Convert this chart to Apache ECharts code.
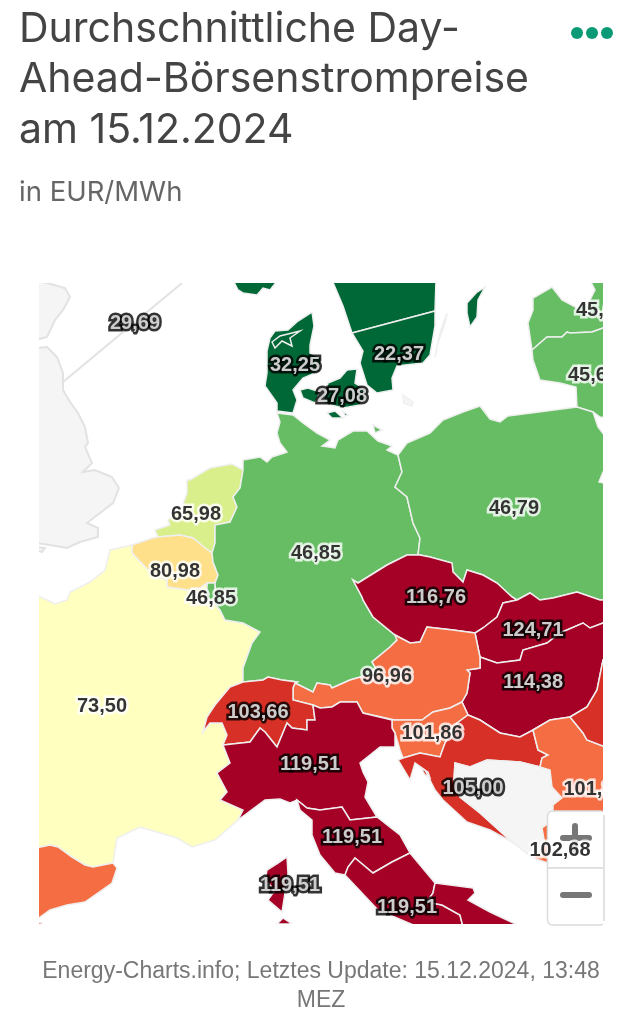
<!DOCTYPE html>
<html><head><meta charset="utf-8">
<style>html,body{margin:0;padding:0;background:#fff}#c{width:633px;height:1024px}</style>
<script src="https://cdn.jsdelivr.net/npm/echarts@6/dist/echarts.min.js"></script>
</head><body><div id="c"></div>
<script>
// ---- values -----
const titleText = 'Durchschnittliche Day-\nAhead-Börsenstrompreise\nam 15.12.2024';
const subtitleText = 'in EUR/MWh';
const footerText = 'Energy-Charts.info; Letztes Update: 15.12.2024, 13:48\nMEZ';
const zoneNames = ['DK1','DK2','SE3','SE4','Gotland','NO2','LV','LT','NL','BE','LU','FR','ES','DE','PL','CZ','SK','HU','AT','SI','HR','RS','RO','ME','CH','IT-Nord','IT-Centre-N','IT-Centre-S','IT-Sud','IT-Sardegna'];
const zoneValues = [32.25,27.08,22.37,22.37,22.37,22.37,45.6,45.6,65.98,80.98,46.85,73.50,101.0,46.85,46.79,116.76,124.71,114.38,96.96,101.86,105.00,101.86,105.0,102.68,103.66,119.51,119.51,119.51,119.51,119.51];
const labelNames = ['GB','DK1','DK2','SE4','LV','LT','NL','BE','LU','DE','PL','CZ','SK','HU','AT','FR','CH','IT-Nord','SI','HR','RS','IT-Centre-N','IT-Sardegna','IT-Centre-S','ME'];
const labelValues = [29.69,32.25,27.08,22.37,45.6,45.6,65.98,80.98,46.85,46.85,46.79,116.76,124.71,114.38,96.96,73.50,103.66,119.51,101.86,105.00,101.86,119.51,119.51,119.51,102.68];
const classLimits = [40,60,70,80,90,103,110];
const classColors = ['#006837','#66bd63','#d9ef8b','#ffffbf','#fee08b','#f46d43','#d73027','#a50026'];

// ---- map outlines (screen-traced shapes) -----
const O = {
 GB:{cp:[135,323],r:[[[36,280],[65,288],[70,297],[63,310],[55,320],[47,337],[36,340]],
   [[36,348],[47,347],[57,357],[63,373],[63,390],[70,402],[78,413],[85,427],[88,443],[85,447],[92,463],[83,472],[95,470],[112,477],[119,488],[113,503],[100,513],[87,523],[98,528],[98,537],[80,542],[67,548],[50,545],[36,543]],
   [[36,547],[45,548],[42,552],[36,550]],
   [[182,283],[63,382],[182,283]]]},
 DK1:{cp:[295,365],r:[[[312,312],[314,326],[310,345],[310,353],[321,358],[320,371],[303,378],[293,390],[297,400],[293,413],[277,411],[277,403],[265,386],[267,373],[267,351],[270,338],[275,331],[288,330],[298,321]],
   [[300,390],[308,388],[320,392],[315,403],[303,398]]],
   h:[[272,342],[280,336],[300,331],[290,338],[292,346],[282,341],[275,348]]},
 DK2:{cp:[342,396],r:[[[328,383],[340,378],[347,370],[357,369],[355,383],[368,391],[360,405],[343,408],[323,403]],
   [[327,413],[335,411],[343,418],[332,418]],[[343,411],[348,415],[345,416]]]},
 SE3:{r:[[[332,280],[436,280],[435,311],[352,333],[343,306]]]},
 SE4:{cp:[399,354],r:[[[352,333],[435,311],[435,326],[430,355],[423,363],[397,366],[392,378],[393,390],[377,393],[367,385],[360,363],[363,351]]]},
 Gotland:{r:[[[485,287],[477,292],[467,303],[467,313],[470,327],[477,317],[478,300]]]},
 Oland:{r:[[[447,313],[440,333],[435,357],[438,343],[445,323]]]},
 Bornholm:{r:[[[403,395],[413,402],[412,406],[404,403]]]},
 NO2:{r:[[[233,280],[278,280],[270,290],[263,288],[257,295],[243,293],[238,290]]]},
 LV:{cp:[601,310],r:[[[533,298],[552,287],[562,300],[577,308],[590,300],[595,290],[590,280],[608,280],[608,328],[603,328],[592,332],[570,333],[567,332],[562,337],[547,337],[532,350],[528,323],[533,310]]]},
 LT:{cp:[593,375],r:[[[532,350],[547,337],[562,337],[567,332],[570,333],[592,332],[603,328],[608,328],[608,418],[600,417],[593,412],[577,407],[576,387],[560,383],[540,380],[533,360]]]},
 NL:{cp:[196,514],r:[[[187,480],[190,480],[210,468],[232,464],[243,470],[240,488],[233,497],[237,507],[230,522],[215,525],[215,543],[212,553],[205,548],[193,538],[180,535],[158,537],[155,530],[170,525],[168,520],[182,507],[187,493]]]},
 BE:{cp:[175,571],r:[[[132,545],[153,538],[158,537],[180,535],[193,538],[205,548],[212,553],[213,562],[218,575],[215,583],[207,583],[200,588],[187,590],[167,587],[167,580],[157,577],[145,567],[132,553]]]},
 LU:{cp:[211,598],r:[[[207,583],[215,583],[216,600],[213,602],[206,598]]]},
 FR:{cp:[102,706],r:[[[132,545],[132,553],[145,567],[157,577],[167,580],[167,587],[187,590],[200,588],[207,583],[206,598],[213,602],[220,610],[225,620],[243,623],[260,632],[252,643],[243,668],[243,682],[230,687],[215,705],[207,717],[203,732],[210,723],[222,723],[227,735],[223,745],[230,763],[217,773],[227,792],[220,800],[243,810],[238,820],[230,827],[215,840],[192,847],[177,838],[157,832],[140,827],[117,838],[113,863],[93,867],[85,865],[72,857],[58,847],[50,845],[36,848],[36,595],[47,600],[55,604],[67,600],[70,592],[90,582],[105,570],[110,550]]]},
 ES:{r:[[[36,848],[50,845],[58,847],[72,857],[85,865],[93,867],[113,863],[117,868],[112,883],[85,902],[67,905],[50,910],[36,920]],[[36,922],[42,923],[42,927],[36,927]]]},
 DE:{cp:[316,553],r:[[[277,413],[293,415],[303,423],[317,433],[330,440],[322,446],[335,448],[338,440],[353,431],[367,431],[378,441],[392,446],[387,450],[398,455],[402,472],[395,487],[407,497],[413,523],[420,538],[418,555],[407,555],[387,565],[358,583],[353,580],[362,597],[363,600],[373,617],[395,635],[397,640],[390,647],[372,662],[378,672],[350,680],[332,688],[330,685],[317,683],[313,692],[295,683],[297,682],[282,680],[268,677],[263,680],[243,682],[243,668],[252,643],[260,632],[243,623],[225,620],[220,610],[213,602],[216,600],[215,583],[218,575],[213,562],[212,553],[215,543],[215,525],[230,522],[237,507],[233,497],[240,488],[243,470],[243,460],[260,457],[267,462],[272,457],[287,452],[280,443],[277,433],[280,422]],
   [[373,425],[382,430],[375,433]]]},
 PL:{cp:[514,508],r:[[[398,455],[407,443],[430,433],[443,420],[463,412],[480,406],[490,419],[500,422],[508,416],[577,407],[593,412],[598,427],[608,440],[608,472],[603,472],[599,482],[608,484],[608,600],[600,600],[577,592],[553,598],[540,600],[530,593],[517,600],[512,597],[497,583],[483,575],[467,570],[463,582],[453,572],[452,563],[430,557],[420,555],[418,555],[420,538],[413,523],[407,497],[395,487],[402,472]]]},
 CZ:{cp:[436,597],r:[[[418,555],[420,555],[430,557],[452,563],[453,572],[463,582],[467,570],[483,575],[497,583],[512,597],[517,600],[503,603],[497,617],[483,628],[475,633],[453,630],[427,627],[420,642],[410,643],[395,635],[373,617],[363,600],[362,597],[353,580],[358,583],[387,565],[407,555]]]},
 SK:{cp:[533,630],r:[[[517,600],[530,593],[540,600],[553,598],[577,592],[600,600],[608,600],[608,623],[603,623],[590,628],[583,623],[560,633],[547,643],[523,650],[520,660],[497,663],[480,657],[475,633],[483,628],[497,617],[503,603]]]},
 HU:{cp:[533,682],r:[[[480,657],[497,663],[520,660],[523,650],[547,643],[560,633],[583,623],[590,628],[603,623],[608,623],[608,660],[603,660],[597,690],[587,707],[570,717],[550,720],[533,730],[520,737],[500,733],[480,720],[468,715],[462,702],[467,693],[470,673],[467,670],[480,668]]]},
 AT:{cp:[387,676],r:[[[395,635],[410,643],[420,642],[427,627],[453,630],[475,633],[480,657],[480,668],[467,670],[470,673],[467,693],[462,702],[450,708],[433,712],[422,720],[395,720],[363,713],[357,702],[340,702],[332,707],[320,708],[313,705],[293,700],[293,688],[295,683],[313,692],[317,683],[330,685],[332,688],[350,680],[378,672],[372,662],[390,647],[397,640]]]},
 SI:{cp:[432,733],r:[[[392,720],[395,720],[422,720],[433,712],[450,708],[462,702],[468,715],[457,723],[445,743],[440,757],[420,753],[403,758],[400,750],[395,733],[392,728]]]},
 HR:{cp:[473,788],r:[[[468,715],[480,720],[500,733],[520,737],[533,730],[538,750],[548,755],[542,758],[540,767],[520,762],[487,760],[470,767],[455,763],[454,780],[460,797],[480,813],[512,842],[490,830],[467,822],[443,800],[435,790],[425,770],[415,763],[410,780],[398,760],[403,758],[420,753],[440,757],[445,743],[457,723]],
   [[421,768],[428,772],[430,778],[425,775]]]},
 BA:{r:[[[540,767],[520,762],[487,760],[470,767],[455,763],[454,780],[460,797],[480,813],[512,842],[533,858],[547,850],[553,812],[553,805],[562,798],[552,787],[550,770]]]},
 ME:{cp:[560,850],r:[[[542,828],[553,820],[570,830],[570,870],[545,862],[533,858],[545,845]]]},
 RS:{cp:[594,789],r:[[[533,730],[550,720],[570,717],[583,733],[587,740],[608,748],[608,815],[553,815],[553,805],[562,798],[552,787],[550,770],[540,767],[542,758],[548,755],[538,750]]]},
 RO:{r:[[[608,660],[603,660],[597,690],[587,707],[570,717],[583,733],[587,740],[608,748]]]},
 CH:{cp:[258,712],r:[[[243,682],[263,680],[268,677],[282,680],[297,682],[295,683],[293,688],[293,700],[313,705],[315,720],[307,720],[307,730],[292,728],[287,723],[277,747],[265,732],[260,728],[250,742],[223,745],[227,735],[222,723],[210,723],[203,732],[207,717],[215,705],[230,687]]]},
 'IT-Nord':{cp:[310,764],r:[[[223,745],[250,742],[260,728],[265,732],[277,747],[287,723],[292,728],[307,730],[307,720],[315,720],[313,705],[320,708],[332,707],[340,702],[357,702],[363,713],[392,720],[392,728],[395,733],[395,747],[380,747],[370,755],[360,763],[363,772],[368,782],[365,797],[377,817],[350,820],[342,807],[320,810],[307,808],[297,800],[290,803],[280,799],[265,800],[238,820],[243,810],[220,800],[227,792],[217,773],[230,763]]]},
 'IT-Centre-N':{cp:[352,837],r:[[[297,800],[307,808],[320,810],[342,807],[350,820],[377,817],[400,835],[410,853],[392,862],[373,873],[355,858],[348,867],[345,875],[335,873],[320,855],[312,835],[312,820],[300,810]]]},
 'IT-Centre-S':{cp:[407,907],r:[[[345,875],[348,867],[355,858],[373,873],[392,862],[410,853],[435,883],[433,893],[427,902],[442,905],[460,915],[463,927],[418,927],[378,910]]]},
 'IT-Sud':{r:[[[435,883],[473,888],[475,893],[468,900],[490,912],[522,927],[463,927],[460,915],[442,905],[427,902],[433,893]]]},
 'IT-Sardegna':{cp:[290,885],r:[[[287,857],[288,873],[285,893],[282,912],[268,900],[275,890],[265,880],[267,870],[278,863]],
   [[277,924],[283,918],[292,924]]]}
};
const toGeo = p => [p[0], 1024 - p[1]];
const ring = r => { const g = r.map(toGeo); g.push(g[0]); return g; };
const features = Object.keys(O).map(name => {
  const z = O[name];
  const polys = z.r.map((r,i) => (i===0 && z.h) ? [ring(r), ring(z.h)] : [ring(r)]);
  return {type:'Feature', properties:{name, cp: z.cp ? toGeo(z.cp) : undefined},
    geometry:{type:'MultiPolygon', coordinates:polys}};
});
echarts.registerMap('zones', {type:'FeatureCollection', features});

const isDark = v => v < classLimits[0] || v >= classLimits[5];
const fmt = v => v.toFixed(2).replace('.', ',');

const pieces = classColors.map((color,i) => ({
  min: i === 0 ? 0 : classLimits[i-1],
  max: i === classLimits.length ? 1000 : classLimits[i],
  color
}));

// two label layers: the outline first, the solid figures on top of it
const labelSeries = (z, outline) => ({
  type:'scatter',coordinateSystem:'geo',z,symbolSize:0,silent:true,
  data:labelNames.map((name,i)=>{
    const v = labelValues[i], dark = isDark(v);
    const lab = {formatter:fmt(v),color:dark?'#fff':'#000'};
    if (outline) { lab.color = dark?'#000':'#fff'; lab.textBorderColor = dark?'#000':'#fff'; lab.textBorderWidth = 5; }
    return {name,value:[...toGeo(O[name].cp),v],label:lab};
  }),
  label:{show:true,position:'inside',fontFamily:'Liberation Sans',fontSize:20,fontWeight:'bold',textBorderWidth:0}
});

const chart = echarts.init(document.getElementById('c'));
const btn = {fill:'#fff', stroke:'#dcdcdc', lineWidth:1.5};
const glyph = {fill:'#777'};
chart.setOption({
  animation:false,
  backgroundColor:'#fff',
  title:[
    {text:titleText,left:19,top:4,padding:0,z:20,textStyle:{fontFamily:'Inter',fontSize:41,fontWeight:400,lineHeight:50.5,color:'#444'}},
    {text:subtitleText,left:19,top:179,padding:0,z:20,textStyle:{fontFamily:'Inter',fontSize:27.5,fontWeight:400,color:'#666'}},
    {text:footerText,left:321,top:957,padding:0,z:20,textAlign:'center',textStyle:{fontFamily:'Liberation Sans',fontSize:23,fontWeight:400,lineHeight:29,color:'#777'}}
  ],
  visualMap:{type:'piecewise',show:false,seriesIndex:0,dimension:0,pieces,outOfRange:{color:'#f5f5f5'}},
  geo:{map:'zones',left:0,top:0,width:633,height:1024,aspectScale:1,boundingCoords:[[0,1024],[633,0]],roam:false,silent:true,z:0,
    label:{show:false},
    itemStyle:{areaColor:'#f5f5f5',borderColor:'#efefef',borderWidth:1.5},
    regions:[{name:'GB',itemStyle:{areaColor:'#f5f5f5',borderColor:'#e2e2e2',borderWidth:2}}],
    emphasis:{disabled:true}},
  graphic:{elements:[
    {type:'rect',z:3,silent:true,shape:{x:547.5,y:811,width:58,height:57,r:[5,5,0,0]},style:btn},
    {type:'rect',z:3,silent:true,shape:{x:547.5,y:868,width:58,height:57,r:[0,0,5,5]},style:btn},
    {type:'rect',z:3,silent:true,shape:{x:572,y:823,width:6,height:30,r:3},style:glyph},
    {type:'rect',z:3,silent:true,shape:{x:560,y:835,width:32,height:6,r:3},style:glyph},
    {type:'rect',z:3,silent:true,shape:{x:560,y:892,width:32,height:6,r:3},style:glyph},
    {type:'rect',z:10,silent:true,shape:{x:603,y:270,width:30,height:666},style:{fill:'#fff'}},
    {type:'rect',z:10,silent:true,shape:{x:0,y:270,width:39,height:666},style:{fill:'#fff'}},
    {type:'rect',z:10,silent:true,shape:{x:0,y:265,width:633,height:18},style:{fill:'#fff'}},
    {type:'rect',z:10,silent:true,shape:{x:0,y:924,width:547,height:12},style:{fill:'#fff'}},
    {type:'rect',z:11,silent:true,shape:{x:603,y:815,width:2,height:106},style:{fill:'#e2e2e2'}},
    {type:'circle',z:20,silent:true,shape:{cx:577,cy:33,r:6},style:{fill:'#0b9a76'}},
    {type:'circle',z:20,silent:true,shape:{cx:592,cy:33,r:6},style:{fill:'#0b9a76'}},
    {type:'circle',z:20,silent:true,shape:{cx:607,cy:33,r:6},style:{fill:'#0b9a76'}}
  ]},
  series:[
    {type:'map',geoIndex:0,silent:true,label:{show:false},
     data:zoneNames.map((name,i)=>({name,value:zoneValues[i]}))},
    labelSeries(5,true),
    labelSeries(6,false)
  ]
});
</script></body></html>
